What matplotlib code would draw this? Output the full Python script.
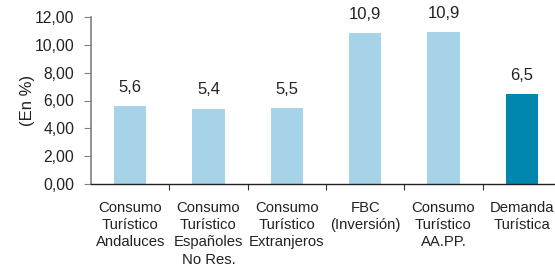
import matplotlib
matplotlib.use("Agg")
import matplotlib.pyplot as plt
import numpy as np

plt.rcParams['font.family'] = ['Liberation Sans', 'DejaVu Sans']

categories = ["Consumo\nTurístico\nAndaluces", "Consumo\nTurístico\nEspañoles\nNo Res.",
              "Consumo\nTurístico\nExtranjeros", "FBC\n(Inversión)",
              "Consumo\nTurístico\nAA.PP.", "Demanda\nTurística"]
values = [5.62, 5.42, 5.45, 10.85, 10.9, 6.46]
labels = ["5,6", "5,4", "5,5", "10,9", "10,9", "6,5"]
yticks = [0, 2, 4, 6, 8, 10, 12]
ytick_labels = ["0,00", "2,00", "4,00", "6,00", "8,00", "10,00", "12,00"]
colors = ["#A6D3E8"] * 5 + ["#0087AF"]

fig = plt.figure(figsize=(5.55, 2.76), dpi=100)
ax = fig.add_axes([91/555, 92/276, 470/555, 167/276])
x = np.arange(len(values))
ax.bar(x, values, width=0.41, color=colors)
for xi, v, l in zip(x, values, labels):
    ax.annotate(l, (xi, v), xytext=(0, 8), textcoords="offset points",
                ha="center", va="bottom", fontsize=12, color="#222222")

ax.set_xlim(-0.5, 5.5)
ax.set_ylim(0, 12)
ax.set_yticks(yticks)
ax.set_yticklabels(ytick_labels, fontsize=11.3, color="#222222")
ax.set_xticks(np.arange(0.5, 5.5, 1.0))
ax.set_xticklabels([])
ax.set_xticks(x, minor=True)
ax.set_xticklabels(categories, minor=True, fontsize=10.7, color="#222222", linespacing=1.3, va="top")
ax.tick_params(axis="x", which="major", length=4, direction="out", color="#333333")
ax.tick_params(axis="x", which="minor", length=0, pad=12)
ax.tick_params(axis="y", length=5, direction="out", color="#808080", pad=7)
for s in ["top", "right"]:
    ax.spines[s].set_visible(False)
ax.spines["left"].set_color("#808080")
ax.spines["left"].set_linewidth(1.2)
ax.spines["bottom"].set_color("#222222")
ax.spines["bottom"].set_linewidth(1.0)
ax.set_ylabel("(En %)", fontsize=12, color="#222222", labelpad=-0.5)

fig.savefig("out.png", dpi=100)
